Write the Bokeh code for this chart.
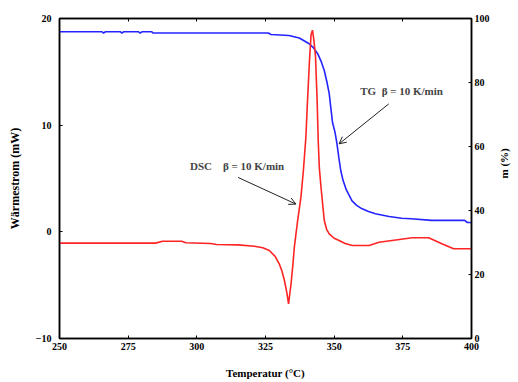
import math
from bokeh.plotting import figure
from bokeh.models import Range1d, LinearAxis, Arrow, OpenHead, Label, FixedTicker
from bokeh.embed import file_html
from bokeh.resources import INLINE

# ---- data ----
temp_dsc = [250, 285, 287.5, 294.5, 296, 305, 307.2, 315, 321, 324, 326.4, 328.5, 330, 331,
            331.9, 332.7, 333.4, 334.0, 334.3, 335, 335.5, 336.7, 337.9, 338.8, 339.7, 340.3,
            341.0, 341.6, 342.1, 342.6, 343.2, 343.8, 344.2, 344.6, 345.2, 346.4, 347.3, 348.2,
            350, 351.8, 354, 356.6, 362.7, 366.3, 371.1, 378.4, 384.4, 389.2, 393.5, 400]
dsc = [-1.06, -1.06, -0.88, -0.88, -1.02, -1.1, -1.19, -1.22, -1.35, -1.5, -1.75, -2.3, -3.0, -3.7,
       -4.56, -5.6, -6.75, -5.5, -4.87, -3.0, -1.44, 1.06, 3.25, 5.75, 8.87, 12.3,
       16.0, 18.5, 18.9, 18.0, 16.5, 12.3, 8.5, 6.0, 4.2, 1.06, 0.2, -0.19,
       -0.6, -0.81, -1.1, -1.28, -1.28, -0.97, -0.81, -0.56, -0.56, -1.12, -1.59, -1.59]

temp_tg = [250, 265.5, 266, 266.8, 272.2, 272.7, 273.4, 278.8, 279.4, 280, 283.6, 284, 326, 327,
           333.5, 337.3, 340.9, 342.5, 344, 345.3, 346.4, 347.4, 348.2, 348.8, 349.4, 350.3,
           351, 351.7, 352.4, 353.2, 354.4, 356.5, 358.2, 360, 362.5, 365, 370, 374.6, 378,
           385.5, 397.5, 398.5, 400]
tg = [95.85, 95.85, 95.45, 95.85, 95.85, 95.45, 95.85, 95.85, 95.45, 95.85, 95.85, 95.45, 95.45, 95.0,
      94.7, 93.9, 92.1, 90.8, 89.0, 86.5, 83.75, 80.0, 76.5, 72.0, 67.5, 64.5,
      61.0, 56.5, 52.5, 49.5, 46.5, 43.0, 41.6, 40.6, 39.7, 39.0, 38.1, 37.6, 37.4,
      36.9, 36.9, 36.25, 36.25]

x_ticks = [250, 275, 300, 325, 350, 375, 400]
dsc_ticks = [-10, 0, 10, 20]
m_ticks = [0, 20, 40, 60, 80, 100]

dsc_label = "DSC\u00a0\u00a0\u00a0\u00a0β = 10 K/min"
tg_label = "TG\u00a0\u00a0β = 10 K/min"

FONT = "Liberation Serif"

p = figure(width=518, height=382, output_backend="svg", toolbar_location=None,
           x_range=Range1d(250, 400), y_range=Range1d(-10, 20),
           min_border_left=59, min_border_right=45, min_border_top=18, min_border_bottom=44)
p.extra_y_ranges = {"m": Range1d(0, 100)}
p.grid.visible = False
p.outline_line_color = "black"
p.outline_line_width = 1.5
p.background_fill_color = "white"
p.border_fill_color = "white"

def style(ax):
    ax.major_tick_in = 3
    ax.major_tick_out = 0
    ax.minor_tick_line_color = None
    ax.axis_line_color = "black"
    ax.axis_line_width = 1.5
    ax.major_tick_line_color = "black"
    ax.major_label_text_font = FONT
    ax.major_label_text_font_style = "bold"
    ax.major_label_text_font_size = "10px"
    ax.major_label_text_color = "black"
    ax.axis_label_text_font = FONT
    ax.axis_label_text_font_style = "bold"
    ax.axis_label_text_font_size = "11px"
    ax.axis_label_text_color = "black"

xa = p.xaxis[0]
xa.ticker = FixedTicker(ticks=x_ticks)
style(xa)
xa.major_label_standoff = 4
xa.axis_label = "Temperatur (°C)"
xa.axis_label_standoff = 14

ya = p.yaxis[0]
ya.ticker = FixedTicker(ticks=dsc_ticks)
style(ya)
ya.major_label_standoff = 8
ya.axis_label = "Wärmestrom (mW)"
ya.axis_label_text_font_size = "12px"
ya.axis_label_standoff = 11

ra = LinearAxis(y_range_name="m", ticker=FixedTicker(ticks=m_ticks))
style(ra)
ra.major_label_standoff = 3
ra.axis_label = "m (%)"
ra.axis_label_standoff = 11
ra.axis_label_orientation = math.pi / 2
p.add_layout(ra, "right")

ta = LinearAxis(ticker=FixedTicker(ticks=x_ticks))
style(ta)
ta.major_label_overrides = {t: "" for t in x_ticks}
ta.major_label_standoff = 0
p.add_layout(ta, "above")

p.line(temp_tg, tg, y_range_name="m", line_color="#2424ff", line_width=1.6)
p.line(temp_dsc, dsc, line_color="#ff2424", line_width=1.6)

p.add_layout(Label(x=297.5, y=6.2, text=dsc_label, text_font=FONT, text_font_style="bold",
                   text_font_size="11px", text_baseline="middle", text_align="left"))
p.add_layout(Label(x=359.5, y=13.2, text=tg_label, text_font=FONT, text_font_style="bold",
                   text_font_size="11px", text_baseline="middle", text_align="left"))

p.add_layout(Arrow(end=OpenHead(size=7, line_width=1, line_color="#222222"),
                   x_start=315, y_start=5.1, x_end=336.1, y_end=2.6,
                   line_color="#222222", line_width=1))
p.add_layout(Arrow(end=OpenHead(size=7, line_width=1, line_color="#222222"),
                   x_start=369.9, y_start=12.0, x_end=351.8, y_end=8.25,
                   line_color="#222222", line_width=1))

open("out.html", "w").write(file_html(p, INLINE))
